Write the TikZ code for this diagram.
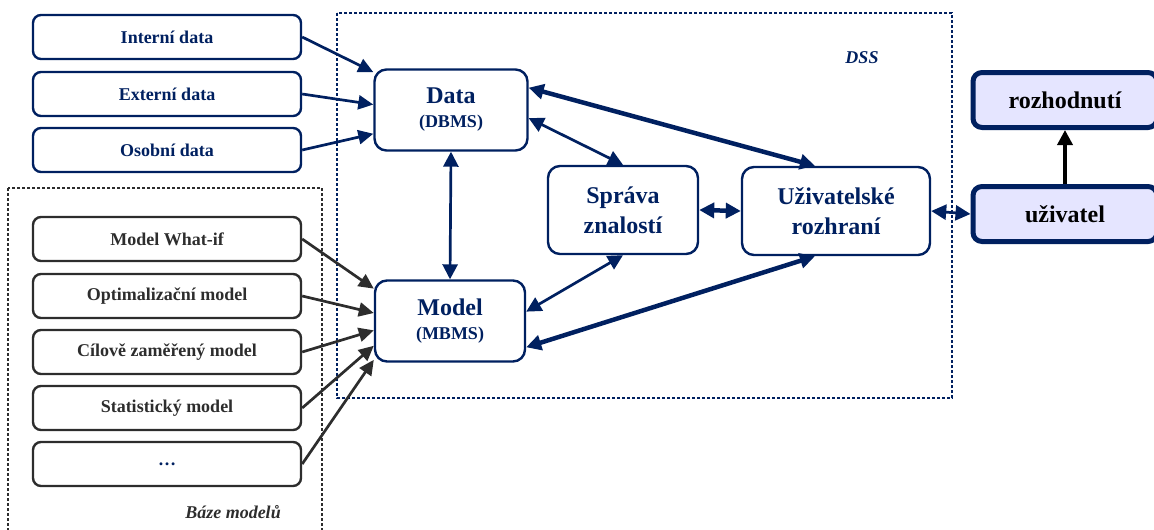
\documentclass[tikz,border=0pt]{standalone}
\usepackage{fontspec}
\setmainfont{Liberation Serif}
\usetikzlibrary{arrows.meta,positioning}
\definecolor{navy}{RGB}{0,32,96}
\definecolor{darkgr}{RGB}{45,45,45}
\definecolor{lavender}{RGB}{229,229,255}
\tikzset{
  srcbox/.style={draw=navy, line width=2.4pt, rounded corners=8pt, minimum width=268pt, minimum height=44pt, text=navy, font=\fontsize{18}{20}\selectfont\bfseries},
  mdlbox/.style={srcbox, draw=darkgr, text=darkgr},
  dssbox/.style={draw=navy, line width=2.4pt, rounded corners=12pt, align=center, text=navy, font=\fontsize{24}{28}\selectfont\bfseries},
  userbox/.style={draw=navy, line width=5pt, rounded corners=9pt, fill=lavender, minimum width=184pt, minimum height=55pt, font=\fontsize{24}{28}\selectfont\bfseries},
  frame/.style={line width=2.8pt, dash pattern=on 2.6pt off 2.4pt},
  link/.style={{Triangle[length=15pt,width=15pt]}-{Triangle[length=15pt,width=15pt]}, color=navy, line width=2.7pt},
  feed/.style={-{Triangle[length=15pt,width=14pt]}, color=navy, line width=2.7pt}
}

\begin{document}
\begin{tikzpicture}[x=1pt, y=1pt]
\useasboundingbox (0,0) rectangle (1154,-530);
% ramce
\draw[frame, draw=navy] (337,-13) rectangle (952,-398);
\draw[frame, draw=darkgr] (8,-188) rectangle (322,-545);
\node (dsslab) at (862,-58) {\fontsize{18}{20}\selectfont\bfseries\itshape\color{navy}DSS};
\node (bazelab) at (233,-512) {\fontsize{18}{20}\selectfont\bfseries\itshape\color{darkgr}Báze modelů};

% zdroje dat
\node[srcbox] (intern) at (167,-37) {Interní data};
\node[srcbox] (extern) at (167,-94) {Externí data};
\node[srcbox] (osobni) at (167,-150) {Osobní data};

% baze modelu
\node[mdlbox] (whatif) at (167,-239) {Model What-if};
\node[mdlbox] (optim) at (167,-296) {Optimalizační model};
\node[mdlbox] (cilove) at (167,-352) {Cílově zaměřený model};
\node[mdlbox] (stat) at (167,-408) {Statistický model};
\node[mdlbox] (dalsi) at (167,-464) {\textcolor{navy}{\dots}};

% DSS
\node[dssbox, minimum width=153pt, minimum height=81pt] (data) at (451,-110) {Data\\[-4pt]{\fontsize{18}{20}\selectfont(DBMS)}};
\node[dssbox, minimum width=150pt, minimum height=81pt] (model) at (450,-321) {Model\\[-4pt]{\fontsize{18}{20}\selectfont(MBMS)}};
\node[dssbox, minimum width=150pt, minimum height=88pt] (sprava) at (623,-210) {Správa\\[2pt]znalostí};
\node[dssbox, minimum width=188pt, minimum height=88pt] (rozhr) at (836,-211) {Uživatelské\\[2pt]rozhraní};

% uzivatel
\node[userbox] (rozhod) at (1065,-100) {rozhodnutí};
\node[userbox] (uzivatel) at (1065,-214) {uživatel};

\path[feed]
(intern.east) edge (data.154)
(extern.east) edge (data.176)
(osobni.east) edge (data.197);
\path[feed, color=darkgr]
(whatif.east) edge (model.157)
(optim.east) edge (model.174)
(cilove.east) edge (model.187)
(stat.east) edge (model.198)
(dalsi.east) edge (model.207);
\path[link]
(data.south) edge (model.north)
(data.-6) edge (sprava.north)
(sprava.south) edge (model.7)
(rozhr.east) edge (uzivatel.west);
\path[link, line width=4.5pt]
(data.16) edge (rozhr.115)
(rozhr.245) edge (model.-19)
(sprava.east) edge (rozhr.west);
\draw[-{Triangle[length=15pt,width=15pt]}, line width=3.5pt] (uzivatel.north) -- (rozhod.south);
\end{tikzpicture}
\end{document}
